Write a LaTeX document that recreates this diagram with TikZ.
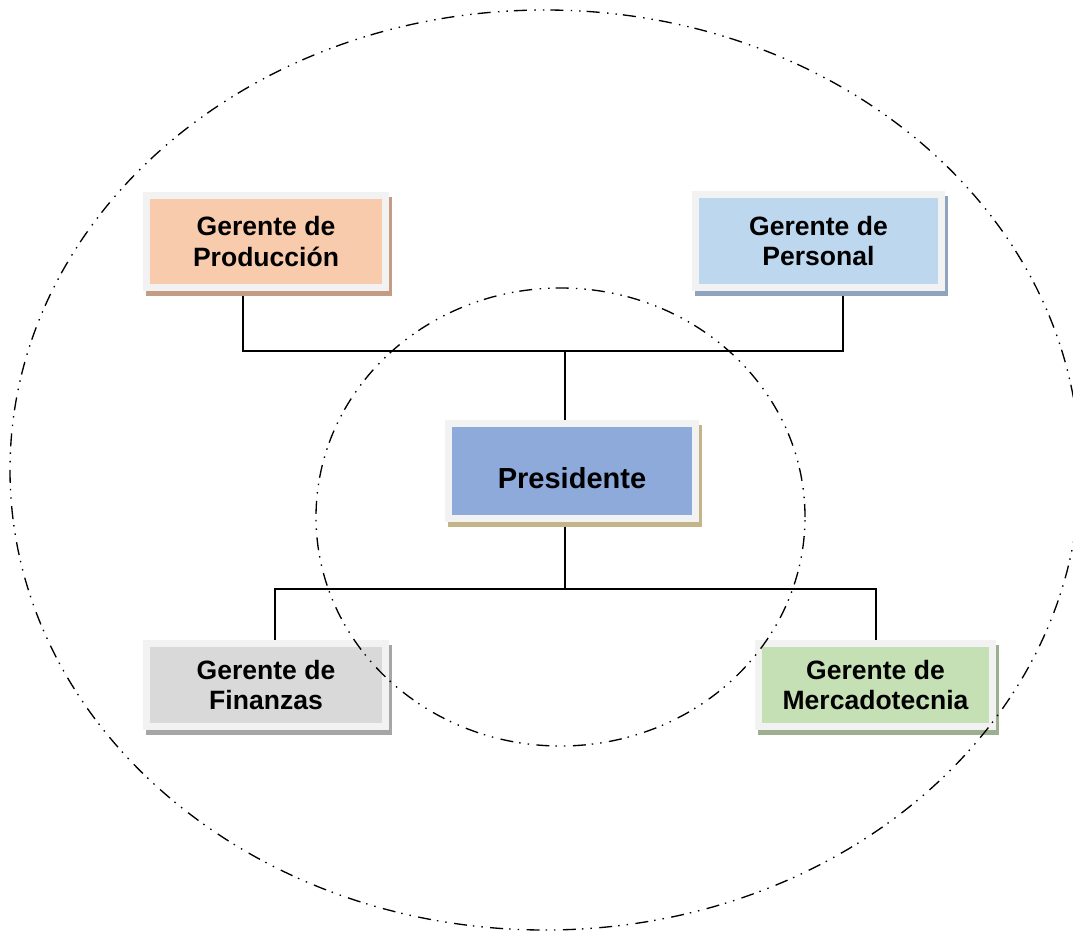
\documentclass[tikz,border=0pt]{standalone}
\usepackage{fontspec}
\setmainfont{Liberation Sans}
\usetikzlibrary{backgrounds}
\newcommand\pxu{0.75pt}
\definecolor{framegray}{HTML}{F2F2F2}
\definecolor{prodfill}{HTML}{F8CBAD}
\definecolor{prodshade}{HTML}{C49C84}
\definecolor{persfill}{HTML}{BDD7EE}
\definecolor{persshade}{HTML}{8EA4BE}
\definecolor{presfill}{HTML}{8EAADB}
\definecolor{presshade}{HTML}{C4B48A}
\definecolor{finfill}{HTML}{D9D9D9}
\definecolor{finshade}{HTML}{A6A6A6}
\definecolor{mercfill}{HTML}{C5E0B4}
\definecolor{mercshade}{HTML}{9DAF90}
\begin{document}
\begin{tikzpicture}[x=0.75pt,y=-0.75pt,
  orgbox/.style={draw=framegray, line width=7*\pxu, inner sep=0pt,
    align=center, text=black,
    font=\fontsize{19.9}{23}\selectfont\bfseries},
  boxshade/.style={preaction={draw=#1, fill=#1, line width=7*\pxu,
    transform canvas={shift={(3,5)}}}},
  conn/.style={draw=black, line width=1.1pt},
  ring/.style={draw=black, line width=1pt,
    dash pattern=on 9.75pt off 4.5pt on 1.1pt off 5.25pt on 1.1pt off 5.6pt}]
\useasboundingbox (0,0) rectangle (1073,932);
\clip (0,0) rectangle (1073,932);

% boxes of the chart
\node[orgbox, fill=prodfill, boxshade=prodshade,
  minimum width=239*\pxu, minimum height=92*\pxu]
  (prod) at (266,241.5) {Gerente de\\Producción};
\node[orgbox, fill=persfill, boxshade=persshade,
  minimum width=246*\pxu, minimum height=93*\pxu]
  (pers) at (818.5,241) {Gerente de\\Personal};
\node[orgbox, fill=presfill, boxshade=presshade,
  minimum width=247*\pxu, minimum height=95*\pxu,
  text height=26pt, text depth=0pt,
  font=\fontsize{21.75}{26}\selectfont\bfseries]
  (pres) at (572,471) {Presidente};
\node[orgbox, fill=finfill, boxshade=finshade,
  minimum width=239*\pxu, minimum height=83*\pxu]
  (fin) at (266,685) {Gerente de\\Finanzas};
\node[orgbox, fill=mercfill, boxshade=mercshade,
  minimum width=234*\pxu, minimum height=83*\pxu]
  (merc) at (875.5,685) {Gerente de\\Mercadotecnia};

% connector buses
\coordinate (topbus) at (565,351);
\coordinate (botbus) at (565,589);
\begin{pgfonlayer}{background}
  \draw[conn] ([xshift=-23*\pxu]prod.south) |- (topbus);
  \draw[conn] ([xshift=24.5*\pxu]pers.south) |- (topbus);
  \draw[conn] ([xshift=-7*\pxu]pres.north) -- (topbus);
  \draw[conn] ([xshift=-7*\pxu]pres.south) -- (botbus);
  \draw[conn] ([xshift=9*\pxu]fin.north) |- (botbus);
  \draw[conn] ([xshift=0.5*\pxu]merc.north) |- (botbus);
\end{pgfonlayer}

% dash-dotted rings
\draw[ring] (560.5,517) ellipse [x radius=244.5*\pxu, y radius=229*\pxu];
\draw[ring] (545,470) ellipse [x radius=535*\pxu, y radius=460*\pxu];
\end{tikzpicture}
\end{document}
